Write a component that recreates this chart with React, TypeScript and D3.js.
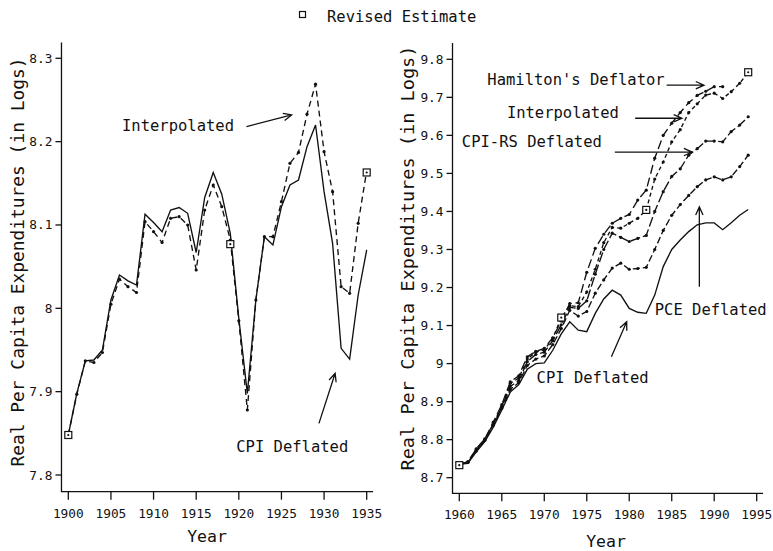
import React from 'react';
import * as d3 from 'd3';

// ---- left panel: 1900-1935 ----
const leftYears = d3.range(1900, 1936);
const leftCpi = [
  7.848, 7.898, 7.937, 7.938, 7.95, 8.01, 8.04, 8.033, 8.028, 8.113,
  8.103, 8.092, 8.118, 8.121, 8.114, 8.067, 8.133, 8.163, 8.137, 8.09,
  7.988, 7.898, 8.01, 8.086, 8.076, 8.122, 8.148, 8.154, 8.194, 8.22,
  8.14, 8.078, 7.952, 7.939, 8.016, 8.07,
];
const leftInterp = [
  7.848, 7.897, 7.937, 7.935, 7.947, 8.005, 8.035, 8.026, 8.019, 8.104,
  8.092, 8.079, 8.108, 8.11, 8.1, 8.046, 8.118, 8.148, 8.122, 8.082,
  7.985, 7.878, 8.01, 8.086, 8.086, 8.128, 8.174, 8.187, 8.233, 8.269,
  8.188, 8.14, 8.026, 8.018, 8.102, 8.165,
];
const leftRevisedYears = [1900, 1919, 1935];
const leftRevised = [7.848, 8.077, 8.163];
const leftXTicks = [1900, 1905, 1910, 1915, 1920, 1925, 1930, 1935];
const leftYTicks = [7.8, 7.9, 8, 8.1, 8.2, 8.3];

// ---- right panel: 1960-1994 ----
const rightYears = d3.range(1960, 1995);
const hamiltonYears = d3.range(1960, 1992);
const hamilton = [
  8.735, 8.742, 8.776, 8.802, 8.846, 8.892, 8.952, 8.968, 9.018, 9.032,
  9.04, 9.068, 9.112, 9.158, 9.16, 9.24, 9.303, 9.34, 9.369, 9.382,
  9.392, 9.43, 9.456, 9.54, 9.6, 9.632, 9.66, 9.686, 9.705, 9.716,
  9.728, 9.728,
];
const rightInterp = [
  8.735, 8.74, 8.775, 8.8, 8.842, 8.888, 8.948, 8.962, 9.012, 9.03,
  9.036, 9.066, 9.121, 9.152, 9.15, 9.188, 9.248, 9.318, 9.358, 9.356,
  9.369, 9.382, 9.404, 9.485, 9.53, 9.583, 9.615, 9.66, 9.683, 9.706,
  9.711, 9.697, 9.715, 9.737, 9.766,
];
const cpiRs = [
  8.735, 8.74, 8.772, 8.8, 8.84, 8.885, 8.94, 8.955, 9.005, 9.024,
  9.03, 9.06, 9.102, 9.148, 9.145, 9.165, 9.235, 9.3, 9.343, 9.332,
  9.321, 9.329, 9.337, 9.4, 9.452, 9.492, 9.512, 9.548, 9.565, 9.585,
  9.585, 9.583, 9.61, 9.627, 9.649,
];
const pce = [
  8.735, 8.74, 8.77, 8.798, 8.838, 8.882, 8.932, 8.95, 8.995, 9.012,
  9.02, 9.05, 9.092, 9.14, 9.125, 9.137, 9.185, 9.22, 9.251, 9.264,
  9.248, 9.25, 9.253, 9.3, 9.35, 9.39, 9.418, 9.442, 9.465, 9.483,
  9.491, 9.483, 9.491, 9.518, 9.548,
];
const rightCpi = [
  8.735, 8.738, 8.768, 8.795, 8.833, 8.878, 8.925, 8.945, 8.985, 9.0,
  9.002, 9.035, 9.078, 9.11, 9.088, 9.084, 9.132, 9.17, 9.193, 9.18,
  9.145, 9.135, 9.132, 9.18, 9.255, 9.3, 9.325, 9.347, 9.365, 9.37,
  9.37, 9.352, 9.37, 9.39, 9.405,
];
const rightRevisedYears = [1960, 1972, 1982, 1994];
const rightRevised = [8.733, 9.121, 9.404, 9.766];
const rightXTicks = [1960, 1965, 1970, 1975, 1980, 1985, 1990, 1995];
const rightYTicks = [8.7, 8.8, 8.9, 9, 9.1, 9.2, 9.3, 9.4, 9.5, 9.6, 9.7, 9.8];

const FONT = "'DejaVu Sans Mono', 'Liberation Mono', monospace";
const INK = '#111';

type Series = { years: number[]; values: number[]; dash?: string; dots?: boolean };
type Note = { text: string; tx: number; tv: number; from: [number, number]; to: [number, number]; head?: boolean };

function Arrow({ x1, y1, x2, y2, head = true }: { x1: number; y1: number; x2: number; y2: number; head?: boolean }) {
  const a = Math.atan2(y2 - y1, x2 - x1);
  const L = 9;
  const s = 0.42;
  const p1 = [x2 - L * Math.cos(a - s), y2 - L * Math.sin(a - s)];
  const p2 = [x2 - L * Math.cos(a + s), y2 - L * Math.sin(a + s)];
  const d = `M${x1},${y1}L${x2},${y2}` + (head ? `M${p1[0]},${p1[1]}L${x2},${y2}L${p2[0]},${p2[1]}` : '');
  return <path d={d} fill="none" stroke={INK} strokeWidth={1.3} />;
}

function Panel(props: {
  xDomain: [number, number]; xRange: [number, number];
  yDomain: [number, number]; yRange: [number, number];
  xAxisExt: [number, number]; yAxisExt: [number, number];
  xTicks: number[]; yTicks: number[];
  series: Series[]; revYears: number[]; revValues: number[];
  notes: Note[]; titleX: number; titleY: number; titleLen: number; yearX: number; yearY: number;
}) {
  const x = d3.scaleLinear().domain(props.xDomain).range(props.xRange);
  const y = d3.scaleLinear().domain(props.yDomain).range(props.yRange);
  const x0 = x(props.xAxisExt[0]);
  const x1 = x(props.xAxisExt[1]);
  const yBot = y(props.yAxisExt[0]);
  const yTop = y(props.yAxisExt[1]);
  const line = d3.line<[number, number]>().x((d) => x(d[0])).y((d) => y(d[1]));

  return (
    <g>
      {/* axes */}
      <path d={`M${x0},${yTop}L${x0},${yBot}L${x1},${yBot}`} fill="none" stroke={INK} strokeWidth={1.3} />
      {props.xTicks.map((t) => (
        <g key={'xt' + t}>
          <line x1={x(t)} x2={x(t)} y1={yBot} y2={yBot + 8} stroke={INK} strokeWidth={1.3} />
          <text x={x(t)} y={yBot + 26} fontSize={12.8} textAnchor="middle" fontFamily={FONT} fill={INK}>{t}</text>
        </g>
      ))}
      {props.yTicks.map((t) => (
        <g key={'yt' + t}>
          <line x1={x0 - 6} x2={x0} y1={y(t)} y2={y(t)} stroke={INK} strokeWidth={1.3} />
          <text x={x0 - 9} y={y(t) + 4.5} fontSize={12.8} textAnchor="end" fontFamily={FONT} fill={INK}>{String(+t.toFixed(1))}</text>
        </g>
      ))}
      <text x={props.yearX} y={props.yearY} fontSize={16.5} textAnchor="middle" fontFamily={FONT} fill={INK}>Year</text>
      <text transform={`translate(${props.titleX},${props.titleY}) rotate(-90)`} fontSize={18} textAnchor="middle"
        fontFamily={FONT} fill={INK} textLength={props.titleLen} lengthAdjust="spacingAndGlyphs">
        Real Per Capita Expenditures (in Logs)
      </text>

      {/* series */}
      {props.series.map((s, i) => {
        const pts = s.years.map((yr, j) => [yr, s.values[j]] as [number, number]);
        return (
          <g key={'s' + i}>
            <path d={line(pts) || ''} fill="none" stroke={INK} strokeWidth={1.35} strokeDasharray={s.dash} />
            {s.dots && pts.map((p, j) => <circle key={j} cx={x(p[0])} cy={y(p[1])} r={1.6} fill={INK} />)}
          </g>
        );
      })}

      {/* revised estimates */}
      {props.revYears.map((yr, i) => (
        <g key={'r' + i}>
          <rect x={x(yr) - 3.5} y={y(props.revValues[i]) - 3.5} width={7} height={7} fill="#fff" stroke={INK} strokeWidth={1.2} />
          <circle cx={x(yr)} cy={y(props.revValues[i])} r={1.1} fill={INK} />
        </g>
      ))}

      {/* annotations */}
      {props.notes.map((n, i) => (
        <g key={'n' + i}>
          <text x={x(n.tx)} y={y(n.tv)} fontSize={15.5} fontFamily={FONT} fill={INK}>{n.text}</text>
          <Arrow x1={x(n.from[0])} y1={y(n.from[1])} x2={x(n.to[0])} y2={y(n.to[1])} head={n.head !== false} />
        </g>
      ))}
    </g>
  );
}

export default function App() {
  return (
    <svg width={773} height={551} style={{ position: 'absolute', left: 0, top: 0, background: '#fff' }}>
      <rect width={773} height={551} fill="#fff" />
      {/* legend */}
      <rect x={299.5} y={11.5} width={6} height={6} fill="#fff" stroke={INK} strokeWidth={1.2} />
      <text x={327} y={21.5} fontSize={15.5} fontFamily={FONT} fill={INK}>Revised Estimate</text>

      <Panel
        xDomain={[1900, 1935]} xRange={[68.3, 366.7]}
        yDomain={[7.8, 8.3]} yRange={[475, 58.3]}
        xAxisExt={[1899.2, 1935.75]} yAxisExt={[7.78, 8.319]}
        xTicks={leftXTicks} yTicks={leftYTicks}
        series={[
          { years: leftYears, values: leftCpi },
          { years: leftYears, values: leftInterp, dash: '6,4', dots: true },
        ]}
        revYears={leftRevisedYears} revValues={leftRevised}
        notes={[
          { text: 'Interpolated', tx: 1906.3, tv: 8.213, from: [1920.9, 8.218], to: [1926.2, 8.232] },
          { text: 'CPI Deflated', tx: 1919.7, tv: 7.828, from: [1929.4, 7.862], to: [1931.3, 7.922] },
        ]}
        titleX={24} titleY={262} titleLen={409} yearX={207} yearY={542}
      />

      <Panel
        xDomain={[1960, 1995]} xRange={[459.3, 756.7]}
        yDomain={[8.7, 9.8]} yRange={[477.7, 59.3]}
        xAxisExt={[1959.2, 1995.75]} yAxisExt={[8.659, 9.843]}
        xTicks={rightXTicks} yTicks={rightYTicks}
        series={[
          { years: rightYears, values: rightCpi },
          { years: rightYears, values: pce, dash: '7,3', dots: true },
          { years: rightYears, values: cpiRs, dash: '10,3', dots: true },
          { years: rightYears, values: rightInterp, dash: '4,3', dots: true },
          { years: hamiltonYears, values: hamilton, dash: '9,4', dots: true },
        ]}
        revYears={rightRevisedYears} revValues={rightRevised}
        notes={[
          { text: "Hamilton's Deflator", tx: 1963.3, tv: 9.732, from: [1984.4, 9.732], to: [1988.8, 9.732] },
          { text: 'Interpolated', tx: 1965.6, tv: 9.645, from: [1980.7, 9.645], to: [1986.2, 9.645] },
          { text: 'CPI-RS Deflated', tx: 1960.3, tv: 9.569, from: [1978.3, 9.556], to: [1987.4, 9.556] },
          { text: 'PCE Deflated', tx: 1983.0, tv: 9.128, from: [1988.25, 9.202], to: [1988.25, 9.412] },
          { text: 'CPI Deflated', tx: 1969.1, tv: 8.948, from: [1977.9, 9.018], to: [1979.7, 9.11] },
        ]}
        titleX={414} titleY={258} titleLen={425} yearX={606} yearY={547}
      />
    </svg>
  );
}
